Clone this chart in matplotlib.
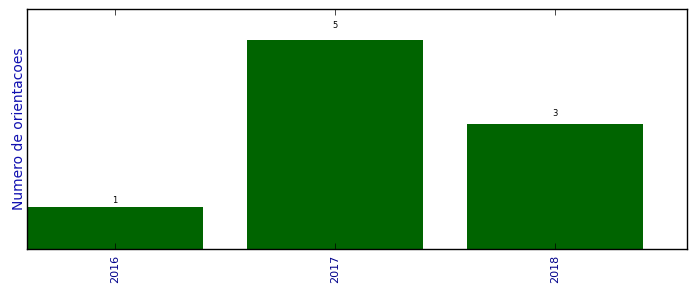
import matplotlib
matplotlib.use("Agg")
import matplotlib.pyplot as plt

anos = ["2016", "2017", "2018"]
orientacoes = [1, 5, 3]

plt.style.use("classic")
fig = plt.figure(figsize=(6.96, 2.92), dpi=100)
ax = fig.add_axes([0.039, 0.147, 0.948, 0.822])

pos = range(len(anos))
bars = ax.bar(pos, orientacoes, width=0.8, color="darkgreen", edgecolor="none", align="center")
for b, v in zip(bars, orientacoes):
    ax.text(b.get_x() + b.get_width() / 2, v * 1.05, str(v), ha="center", va="bottom", fontsize=6)

ax.set_xlim(-0.4, 2.6)
ax.set_ylim(0, max(orientacoes) * 1.15)
ax.set_xticks(list(pos))
ax.set_xticklabels(anos, rotation=90, color="darkblue", fontsize=8)
ax.set_yticks([])
ax.set_ylabel("Numero de orientacoes", color="#1010b0", fontsize=10, labelpad=1)

fig.savefig("out.png", dpi=100)
